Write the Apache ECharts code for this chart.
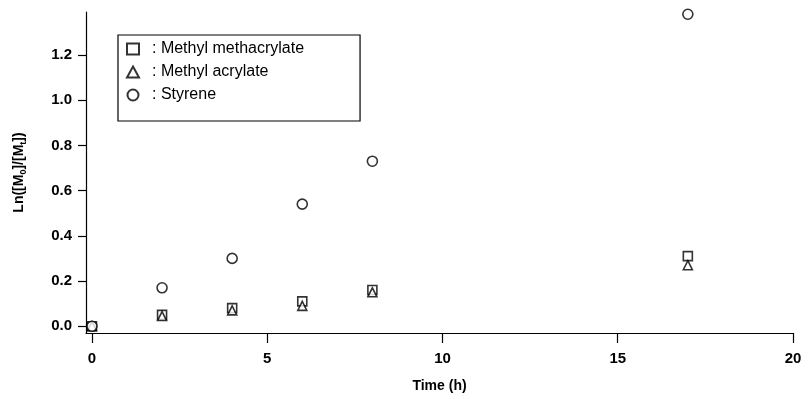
<!DOCTYPE html>
<html><head><meta charset="utf-8">
<script src="https://cdn.jsdelivr.net/npm/echarts@6/dist/echarts.min.js"></script>
<style>html,body{margin:0;padding:0;background:#fff}#c{width:809px;height:399px}</style>
</head><body><div id="c"></div>
<script>
var timeH = [0, 2, 4, 6, 8, 17];
var mma = [0.0, 0.05, 0.08, 0.11, 0.16, 0.31];
var ma = [0.0, 0.045, 0.07, 0.09, 0.15, 0.27];
var styrene = [0.0, 0.17, 0.30, 0.54, 0.73, 1.38];
var xTicks = [0, 5, 10, 15, 20];
var yTicks = [0.0, 0.2, 0.4, 0.6, 0.8, 1.0, 1.2];
var names = ['Methyl methacrylate', 'Methyl acrylate', 'Styrene'];

function pairs(ys){ return timeH.map(function(t,i){ return [t, ys[i]]; }); }
var font = 'Liberation Sans, Arial, sans-serif';
var mk = {color:'#fff', borderColor:'#000', borderWidth:1.6};
var chart = echarts.init(document.getElementById('c'));
chart.setOption({
  animation:false,
  backgroundColor:'#fff',
  grid:{left:86, right:16, top:12, bottom:66},
  legend:{
    orient:'vertical', left:118, top:35,
    borderColor:'#000', borderWidth:1.2, padding:[6,56,18,8], itemGap:7,
    itemWidth:12, itemHeight:11,
    data:names,
    formatter:function(n){ return ': ' + n; },
    textStyle:{fontFamily:font, fontSize:16, color:'#000', padding:[0,0,0,8]}
  },
  xAxis:{
    type:'value', min:-0.17, max:20,
    name:'Time (h)', nameLocation:'middle', nameGap:46,
    nameTextStyle:{fontFamily:font, fontSize:14, color:'#000', fontWeight:'bold'},
    axisLine:{onZero:false, lineStyle:{color:'#000', width:1.2}},
    axisTick:{show:true, length:10, inside:false, customValues:xTicks, lineStyle:{color:'#000', width:1.2}},
    axisLabel:{customValues:xTicks, margin:18, fontFamily:font, fontSize:15, color:'#000', fontWeight:'bold'},
    splitLine:{show:false}
  },
  yAxis:{
    type:'value', min:-0.03, max:1.39,
    name:'{a|Ln([M}{s|0}{a|]/[M}{s|t}{a|])}', nameLocation:'middle', nameGap:58,
    nameTextStyle:{rich:{
      a:{fontFamily:font, fontSize:14, color:'#000', fontWeight:'bold'},
      s:{fontFamily:font, fontSize:9, color:'#000', fontWeight:'bold', verticalAlign:'bottom', padding:[8,0,0,0]}
    }},
    axisLine:{onZero:false, lineStyle:{color:'#000', width:1.2}},
    axisTick:{show:true, length:8, customValues:yTicks, lineStyle:{color:'#000', width:1.2}},
    axisLabel:{customValues:yTicks, margin:14, fontFamily:font, fontSize:15, color:'#000', fontWeight:'bold',
      formatter:function(v){ return v.toFixed(1); }},
    splitLine:{show:false}
  },
  series:[
    {name:names[0], type:'scatter', symbol:'rect', symbolSize:9, itemStyle:mk, data:pairs(mma), z:3},
    {name:names[1], type:'scatter', symbol:'triangle', symbolSize:9, itemStyle:mk, data:pairs(ma), z:4},
    {name:names[2], type:'scatter', symbol:'circle', symbolSize:10, itemStyle:mk, data:pairs(styrene), z:5}
  ]
});
</script></body></html>
